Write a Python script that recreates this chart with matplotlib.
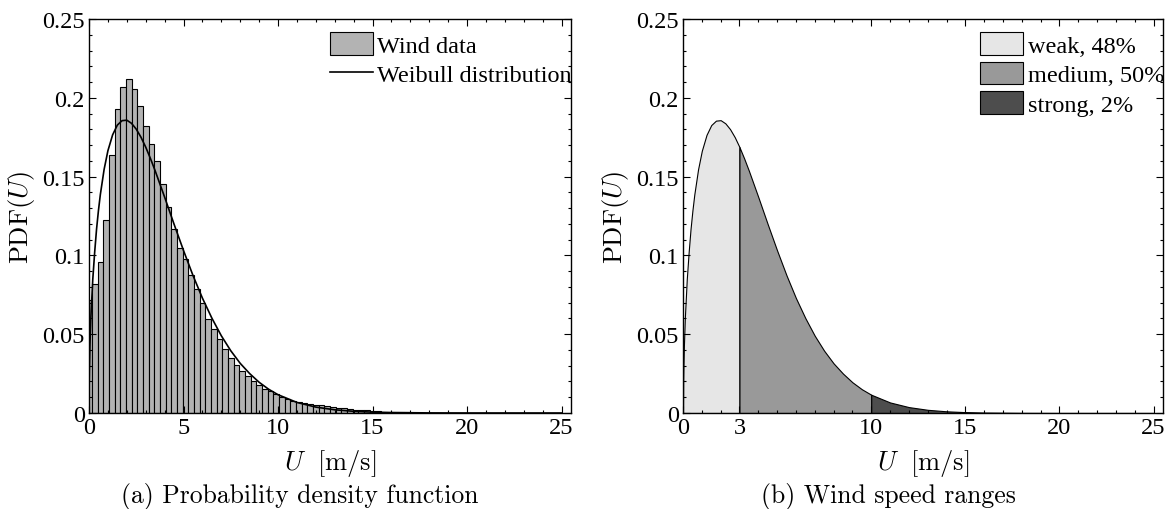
import numpy as np
import matplotlib
matplotlib.use("Agg")
import matplotlib.pyplot as plt
from matplotlib.ticker import MultipleLocator

plt.rcParams['mathtext.fontset'] = 'cm'
plt.rcParams['font.family'] = ['Liberation Serif', 'DejaVu Serif']

# histogram of wind data, bins of 0.3 m/s centred on 0, 0.3, 0.6, ...
bin_width = 0.3
hist_heights = [0.072, 0.082, 0.096, 0.1226, 0.164, 0.193, 0.207, 0.212, 0.2055,
                0.195, 0.182, 0.171, 0.1596, 0.145, 0.131, 0.117, 0.105, 0.098,
                0.0877, 0.0788, 0.0695, 0.0594, 0.0533, 0.0467, 0.0405, 0.0349,
                0.0302, 0.0268, 0.0233, 0.0205, 0.0179, 0.0154, 0.0138, 0.0122,
                0.0101, 0.0091, 0.0078, 0.0070, 0.0062, 0.0057, 0.0053, 0.0049,
                0.0042, 0.0038, 0.0034, 0.0030, 0.0025, 0.0022, 0.0019, 0.0016,
                0.0013, 0.0011, 0.0009, 0.0007, 0.0006, 0.0005, 0.0004]

# fitted Weibull curve
u_curve = [0, 0.01, 0.02, 0.05, 0.1, 0.2, 0.3, 0.4, 0.5, 0.6, 0.8, 1.0, 1.25, 1.5,
           1.75, 2.0, 2.25, 2.5, 2.75, 3.0, 3.25, 3.5, 4.0, 4.5, 5.0, 5.5, 6.0, 6.5,
           7.0, 7.5, 8.0, 8.5, 9.0, 9.5, 10.0, 11.0, 12.0, 13.0, 14.0, 15.0, 16.0,
           18.0, 20.0, 25.0]
pdf_curve = [0.0, 0.0198, 0.0278, 0.0434, 0.0609, 0.0848, 0.1020, 0.1167, 0.1285,
             0.1386, 0.1546, 0.1664, 0.1765, 0.1827, 0.1855, 0.1858, 0.1838, 0.1801,
             0.1750, 0.1687, 0.1615, 0.1537, 0.1370, 0.1198, 0.1031, 0.0873, 0.0729,
             0.0602, 0.0490, 0.0395, 0.0315, 0.0250, 0.0195, 0.0151, 0.0116, 0.0067,
             0.00374, 0.00203, 0.00107, 0.00055, 0.00027, 0.00006, 0.00001, 0.0]

range_edges = [0, 3, 10, 25]
range_labels = ['weak, 48%', 'medium, 50%', 'strong, 2%']
range_colors = ['#e6e6e6', '#999999', '#4d4d4d']

x_ticks_a = [0, 5, 10, 15, 20, 25]
x_ticks_b = [0, 3, 10, 15, 20, 25]
y_ticks = [0, 0.05, 0.1, 0.15, 0.2, 0.25]
y_ticklabels = ['0', '0.05', '0.1', '0.15', '0.2', '0.25']

W, H = 1175, 510
fig = plt.figure(figsize=(W / 100, H / 100), dpi=100)
ax1 = fig.add_axes([89 / W, 96 / H, 482 / W, 394 / H])
ax2 = fig.add_axes([683 / W, 96 / H, 480 / W, 394 / H])

u = np.array(u_curve)
f = np.array(pdf_curve)

# (a) histogram + Weibull
centers = np.arange(len(hist_heights)) * bin_width
bars = ax1.bar(centers, hist_heights, width=bin_width, color='#b3b3b3', edgecolor='k',
               linewidth=0.8)
line, = ax1.plot(u, f, color='k', lw=1.2)

# (b) coloured ranges under the curve
for lo, hi, lab, col in zip(range_edges[:-1], range_edges[1:], range_labels, range_colors):
    m = (u >= lo) & (u <= hi)
    ax2.fill_between(u[m], f[m], 0, facecolor=col, edgecolor='k', lw=0.8, label=lab)

leg_kw = dict(loc='upper right', bbox_to_anchor=(1.03, 1.0), frameon=False,
              fontsize=17.5, handlelength=1.75, handleheight=1.05,
              handletextpad=0.2, labelspacing=0.2, borderaxespad=0.3,
              borderpad=0.25)
ax1.legend([bars, line], ['Wind data', 'Weibull distribution'], **leg_kw)
ax2.legend(**leg_kw)

for ax, xt in ((ax1, x_ticks_a), (ax2, x_ticks_b)):
    ax.set_xlim(0, 25.5)
    ax.set_ylim(0, 0.25)
    ax.set_xticks(xt)
    ax.set_xticklabels([str(t) for t in xt])
    ax.set_yticks(y_ticks)
    ax.set_yticklabels(y_ticklabels)
    ax.xaxis.set_minor_locator(MultipleLocator(1))
    ax.yaxis.set_minor_locator(MultipleLocator(0.01))
    ax.tick_params(which='both', direction='in', top=True, right=True,
                   labelsize=17.5, width=0.8)
    ax.tick_params(which='major', length=5, pad=3)
    ax.tick_params(which='minor', length=2.5)
    for s in ax.spines.values():
        s.set_linewidth(1.0)
    ax.set_xlabel(r'$U\ \ [\mathrm{m/s}]$', fontsize=19, va='center')
    ax.xaxis.set_label_coords(0.5, -0.125)
    ax.set_ylabel(r'$\mathrm{PDF}(U)$', fontsize=19, va='center')
    ax.yaxis.set_label_coords(-0.14, 0.5)

fig.text(300 / W, 13 / H, '(a) Probability density function', family='cmr10',
         fontsize=18.5, ha='center', va='center')
fig.text(888 / W, 13 / H, '(b) Wind speed ranges', family='cmr10',
         fontsize=18.5, ha='center', va='center')

fig.savefig('out.png', dpi=100)
